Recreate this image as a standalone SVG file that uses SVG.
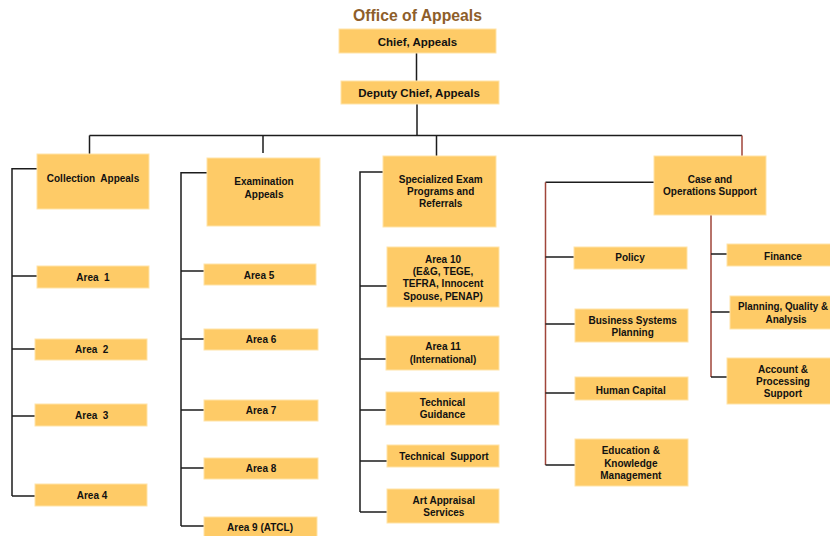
<svg xmlns="http://www.w3.org/2000/svg" width="830" height="536" viewBox="0 0 830 536">
<style>
.b{fill:#FECB67;stroke:#FFE3A8;stroke-width:1}
.t{font-family:"Liberation Sans",Arial,sans-serif;font-weight:bold;font-size:10px;fill:#111;text-anchor:middle}
.h{font-size:11.5px}
.k{fill:none;stroke:#1c1c1c;stroke-width:1.5}
.r{fill:none;stroke:#A0453A;stroke-width:1.5}
</style>
<rect width="830" height="536" fill="#fff"/>
<text x="417.5" y="21" font-family="Liberation Sans,Arial,sans-serif" font-weight="bold" font-size="17" fill="#8E5E2A" text-anchor="middle" textLength="129" lengthAdjust="spacingAndGlyphs">Office of Appeals</text>
<g id="connectors">
<path class="k" d="M416.5 53V81M417 104V135.5M89.5 135.5H742M89.5 135.5V154M263 135.5V153M436.5 135.5V156"/>
<path class="r" d="M742 135.5V156"/>
<path class="k" d="M37 168.7H12V496M12 276H37M12 349H35M12 416H35M12 496H35"/>
<path class="k" d="M207 172.7H181V526M181 271H204M181 339H204M181 410H204M181 468H204M181 526H204"/>
<path class="k" d="M383 172H360V512M360 286H387M360 359H386M360 410H386M360 461H387M360 512H387"/>
<path class="k" d="M654 182.3H545.5"/>
<path class="r" d="M545.5 182.3V465M711 215V377"/>
<path class="k" d="M545.5 257H574M545.5 324H575M545.5 393H575M545.5 465H575M711 254H727M711 312H730M711 377H727"/>
</g>
<g id="chief"><rect class="b" x="339" y="29" width="157" height="24"/><text class="t h" x="417.5" y="45.5">Chief, Appeals</text></g>
<g id="deputy"><rect class="b" x="341" y="81" width="158" height="23"/><text class="t h" x="419" y="96.5">Deputy Chief, Appeals</text></g>
<g id="collection"><rect class="b" x="37" y="154" width="112" height="55"/><text class="t" x="93" y="181.5" xml:space="preserve">Collection  Appeals</text></g>
<g id="area1"><rect class="b" x="37" y="266" width="112" height="22"/><text class="t" x="93" y="280.5" xml:space="preserve">Area  1</text></g>
<g id="area2"><rect class="b" x="35" y="339" width="112" height="21"/><text class="t" x="91.7" y="352.8" xml:space="preserve">Area  2</text></g>
<g id="area3"><rect class="b" x="35" y="404" width="112" height="22"/><text class="t" x="91.7" y="419" xml:space="preserve">Area  3</text></g>
<g id="area4"><rect class="b" x="35" y="484" width="112" height="22"/><text class="t" x="92" y="499">Area 4</text></g>
<g id="examination"><rect class="b" x="207" y="158" width="113" height="68"/><text class="t" x="264" y="185">Examination</text><text class="t" x="264" y="197.5">Appeals</text></g>
<g id="area5"><rect class="b" x="204" y="264" width="112" height="21"/><text class="t" x="259" y="279">Area 5</text></g>
<g id="area6"><rect class="b" x="204" y="329" width="114" height="21"/><text class="t" x="261" y="343">Area 6</text></g>
<g id="area7"><rect class="b" x="204" y="400" width="114" height="21"/><text class="t" x="261" y="414">Area 7</text></g>
<g id="area8"><rect class="b" x="204" y="458" width="114" height="21"/><text class="t" x="261" y="471.5">Area 8</text></g>
<g id="area9"><rect class="b" x="204" y="517" width="113" height="20"/><text class="t" x="260" y="531">Area 9 (ATCL)</text></g>
<g id="specialized"><rect class="b" x="383" y="156" width="113" height="71"/><text class="t" x="440.7" y="182.5">Specialized Exam</text><text class="t" x="440.7" y="195">Programs and</text><text class="t" x="440.7" y="207">Referrals</text></g>
<g id="area10"><rect class="b" x="387" y="247" width="112" height="60"/><text class="t" x="443" y="262.5">Area 10</text><text class="t" x="443" y="274.8">(E&amp;G, TEGE,</text><text class="t" x="443" y="286.8">TEFRA, Innocent</text><text class="t" x="443" y="299.5">Spouse, PENAP)</text></g>
<g id="area11"><rect class="b" x="386" y="336" width="113" height="34"/><text class="t" x="443" y="350">Area 11</text><text class="t" x="443" y="363">(International)</text></g>
<g id="tech-guidance"><rect class="b" x="386" y="392" width="113" height="33"/><text class="t" x="442.5" y="406">Technical</text><text class="t" x="442.5" y="418">Guidance</text></g>
<g id="tech-support"><rect class="b" x="387" y="445" width="112" height="22"/><text class="t" x="444" y="460" xml:space="preserve">Technical  Support</text></g>
<g id="art-appraisal"><rect class="b" x="387" y="489" width="112" height="34"/><text class="t" x="443.8" y="503.5">Art Appraisal</text><text class="t" x="443.8" y="515.5">Services</text></g>
<g id="case-ops"><rect class="b" x="654" y="156" width="112" height="59"/><text class="t" x="710" y="182.5">Case and</text><text class="t" x="710" y="195">Operations Support</text></g>
<g id="policy"><rect class="b" x="574" y="247" width="113" height="22"/><text class="t" x="630" y="261">Policy</text></g>
<g id="bsp"><rect class="b" x="575" y="309" width="113" height="33"/><text class="t" x="632.7" y="323.5">Business Systems</text><text class="t" x="632.7" y="336">Planning</text></g>
<g id="human-capital"><rect class="b" x="575" y="377" width="113" height="23"/><text class="t" x="630.7" y="393.5">Human Capital</text></g>
<g id="education"><rect class="b" x="575" y="439" width="113" height="47"/><text class="t" x="630.8" y="454">Education &amp;</text><text class="t" x="630.8" y="466.5">Knowledge</text><text class="t" x="630.8" y="479">Management</text></g>
<g id="finance"><rect class="b" x="727" y="244" width="115" height="22"/><text class="t" x="783" y="260">Finance</text></g>
<g id="pqa"><rect class="b" x="730" y="296" width="112" height="33"/><text class="t" x="783" y="310" textLength="90" lengthAdjust="spacingAndGlyphs">Planning, Quality &amp;</text><text class="t" x="786" y="322.5">Analysis</text></g>
<g id="account"><rect class="b" x="727" y="358" width="115" height="46"/><text class="t" x="783" y="372.5">Account &amp;</text><text class="t" x="783" y="385">Processing</text><text class="t" x="783" y="397">Support</text></g>
</svg>
